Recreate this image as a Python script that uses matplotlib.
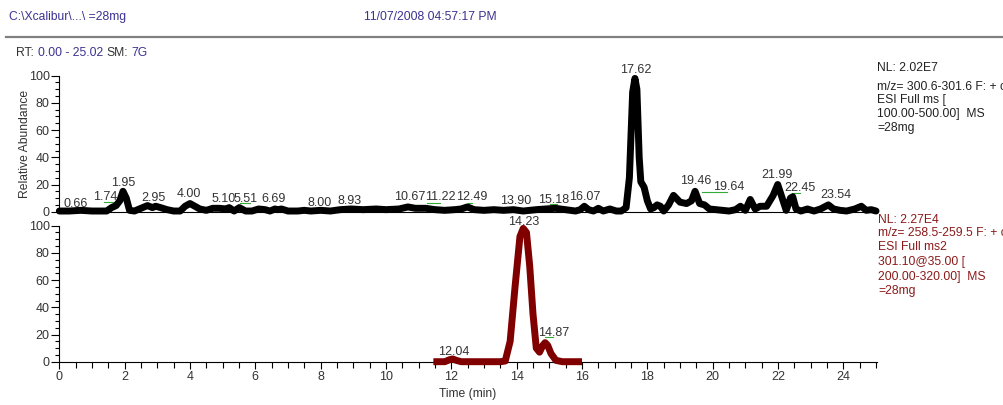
import numpy as np
import matplotlib
matplotlib.use("Agg")
import matplotlib.pyplot as plt
from matplotlib.ticker import MultipleLocator

# base peak trace, m/z 300.6-301.6 (time in min, relative abundance)
tic_time = [0.0, 0.3, 0.66, 1.0, 1.45, 1.6, 1.74, 1.85, 1.95, 2.05, 2.15, 2.3, 2.5, 2.7, 2.85,
            2.95, 3.1, 3.3, 3.5, 3.7, 3.85, 4.0, 4.15, 4.3, 4.5, 4.7, 4.9, 5.1, 5.2, 5.35,
            5.51, 5.7, 5.9, 6.1, 6.3, 6.45, 6.6, 6.69, 6.8, 7.0, 7.3, 7.5, 7.7, 8.0, 8.3,
            8.6, 8.93, 9.3, 9.7, 10.0, 10.4, 10.67, 10.9, 11.22, 11.5, 11.8, 12.1, 12.3,
            12.49, 12.7, 13.0, 13.3, 13.6, 13.9, 14.2, 14.6, 14.9, 15.18, 15.5, 15.8, 15.95,
            16.07, 16.2, 16.35, 16.5, 16.65, 16.85, 17.05, 17.2, 17.35, 17.45, 17.55, 17.62,
            17.68, 17.75, 17.8, 17.9, 18.0, 18.1, 18.2, 18.3, 18.4, 18.5, 18.65, 18.8, 19.0,
            19.2, 19.35, 19.46, 19.6, 19.75, 19.9, 20.1, 20.3, 20.5, 20.7, 20.85, 21.0,
            21.15, 21.3, 21.45, 21.65, 21.85, 21.99, 22.1, 22.25, 22.38, 22.45, 22.55, 22.7,
            22.9, 23.1, 23.3, 23.54, 23.7, 23.9, 24.1, 24.35, 24.55, 24.7, 24.85, 25.0]
tic_abund = [0.5, 0.5, 1, 0.5, 0.5, 3, 4.5, 8, 15, 10, 1, 0.5, 2.5, 4.5, 3,
             4, 3, 1.5, 0.5, 0.5, 4, 6, 4, 2, 1, 2.5, 2.5, 2, 3, 0.5,
             3, 0.5, 0.5, 2, 1.5, 0.5, 2, 1.5, 2, 0.5, 0.5, 1, 0.5, 1, 0.5,
             1.5, 2, 1.5, 2, 1.5, 2, 3.5, 2.5, 2.5, 1.5, 1, 1.5, 2,
             3.5, 1.5, 1, 1.5, 1, 1.5, 0.5, 1.5, 2, 2.5, 1.5, 0.5, 1.5,
             4, 1.5, 0.5, 2.5, 0.5, 2, 0.5, 0.5, 3, 25, 88, 98,
             90, 40, 22, 18, 8, 2, 3, 5, 4, 0.5, 5, 12, 7,
             6, 8, 15, 6, 5, 2, 1.5, 1, 0.5, 1.5, 4, 1,
             9, 2, 4, 4, 12, 20, 12, 1, 10, 11, 2, 0.5,
             2, 0.5, 2, 5, 2, 1, 0.5, 2, 4, 1, 1.5, 0.5]

# MS2 trace, m/z 258.5-259.5
ms2_time = [11.45, 11.8, 11.95, 12.04, 12.15, 12.3, 13.5, 13.65, 13.8, 13.95, 14.1, 14.2,
            14.3, 14.4, 14.5, 14.6, 14.7, 14.8, 14.87, 14.95, 15.05, 15.2, 15.4, 16.0]
ms2_abund = [0, 0, 1.5, 2, 1, 0, 0, 0.5, 15, 55, 92, 98,
             95, 70, 35, 10, 7, 12, 14, 12, 6, 1, 0, 0]

# peak labels: text, label x (min), label y (abundance)
top_labels = ["0.66", "1.74", "1.95", "2.95", "4.00", "5.10", "5.51", "6.69", "8.00", "8.93",
              "10.67", "11.22", "12.49", "13.90", "15.18", "16.07", "17.62", "19.46", "19.64",
              "21.99", "22.45", "23.54"]
top_lab_x = [0.50, 1.40, 1.96, 2.88, 3.98, 5.02, 5.69, 6.55, 7.98, 8.90,
             10.74, 11.66, 12.63, 13.96, 15.13, 16.07, 17.66, 19.47, 20.49,
             21.97, 22.67, 23.76]
top_lab_y = [5.5, 11, 21, 10, 13, 9.5, 9.5, 9, 6.5, 7.5,
             10.5, 10.5, 10.5, 7.5, 8.5, 11, 104, 22.5, 18, 27, 17.5, 12.5]

bot_labels = ["12.04", "14.23", "14.87"]
bot_lab_x = [12.07, 14.21, 15.13]
bot_lab_y = [7, 103, 21]

# green connector segments from peak to shifted label: x0, x1, y
top_links = [(0.48, 0.63, 2.5), (1.37, 1.71, 7.4), (5.53, 5.84, 6.2), (11.25, 11.66, 6.2),
             (12.52, 12.63, 6.2), (15.03, 15.23, 5.6), (19.67, 20.44, 14.3), (22.43, 22.66, 14)]
bot_links = [(14.88, 15.11, 18.4)]

W, H = 1004, 405
plt.rcParams['font.family'] = ['Liberation Sans', 'DejaVu Sans']
plt.rcParams['font.size'] = 8.7

fig = plt.figure(figsize=(W / 100, H / 100), dpi=100)
fig.patch.set_facecolor('white')

def px(x, y):
    return x / W, 1 - y / H

navy = '#3b3390'
txt = '#333333'
red = '#800000'

fig.text(*px(9.3, 17.3), r"C:\Xcalibur\...\ =28mg", color=navy, va='center', ha='left')
fig.text(*px(364, 17.3), "11/07/2008 04:57:17 PM", color=navy, va='center', ha='left')
fig.add_artist(plt.Line2D([6 / W, 1], [1 - 36.7 / H] * 2, color='#808080', lw=1.6))
fig.text(*px(16, 53.3), "RT:", color=txt, va='center', ha='left')
fig.text(*px(38.3, 53.3), "0.00 - 25.02", color=navy, va='center', ha='left')
fig.text(*px(106, 53.3), "SM:", color=txt, va='center', ha='left')
fig.text(*px(131.7, 53.3), "7G", color=navy, va='center', ha='left')

left = 59.3 / W
width = (876.7 - 59.3) / W
ax1 = fig.add_axes([left, (H - 211.7) / H, width, 136 / H])
ax2 = fig.add_axes([left, (H - 361.7) / H, width, 136 / H])

for ax in (ax1, ax2):
    ax.set_xlim(0, 25.02)
    ax.set_ylim(0, 100)
    ax.patch.set_alpha(0)
    ax.spines['top'].set_visible(False)
    ax.spines['right'].set_visible(False)
    ax.yaxis.set_major_locator(MultipleLocator(20))
    ax.yaxis.set_minor_locator(MultipleLocator(5))
    ax.tick_params(axis='y', which='major', length=6, width=0.8, pad=1, labelcolor=txt, labelsize=9)
    ax.tick_params(axis='y', which='minor', length=3, width=0.8)

ax1.tick_params(axis='x', which='both', bottom=False, labelbottom=False)
ax1.spines['bottom'].set_linewidth(0.8)
ax2.xaxis.set_major_locator(MultipleLocator(2))
ax2.xaxis.set_minor_locator(MultipleLocator(0.5))
ax2.tick_params(axis='x', which='major', length=5, width=0.8, pad=2, labelcolor=txt, labelsize=9)
ax2.tick_params(axis='x', which='minor', length=4, width=0.8)

ax1.plot(tic_time, tic_abund, color='black', lw=5, solid_joinstyle='round',
         solid_capstyle='round', clip_on=False, zorder=3)
ax2.plot(ms2_time, ms2_abund, color=red, lw=5, solid_joinstyle='round',
         solid_capstyle='butt', clip_on=False, zorder=3)

for x0, x1, y in top_links:
    ax1.plot([x0, x1], [y, y], color='#33aa33', lw=0.8, clip_on=False, zorder=2)
for x0, x1, y in bot_links:
    ax2.plot([x0, x1], [y, y], color='#33aa33', lw=0.8, clip_on=False, zorder=2)

for s, x, y in zip(top_labels, top_lab_x, top_lab_y):
    ax1.text(x, y, s, ha='center', va='center', color=txt, fontsize=9, clip_on=False, zorder=4)
for s, x, y in zip(bot_labels, bot_lab_x, bot_lab_y):
    ax2.text(x, y, s, ha='center', va='center', color=txt, fontsize=9, clip_on=False, zorder=4)

ax1.set_ylabel("Relative Abundance", color=txt, labelpad=-2)
ax2.set_xlabel("Time (min)", color=txt, labelpad=3)

top_info = [("NL: 2.02E7", 68.3), ("m/z= 300.6-301.6 F: + c", 86.7), ("ESI Full ms [", 100),
            ("100.00-500.00]  MS", 114), ("=28mg", 127.7)]
bot_info = [("NL: 2.27E4", 220), ("m/z= 258.5-259.5 F: + c", 233.3), ("ESI Full ms2", 246.7),
            ("301.10@35.00 [", 261.7), ("200.00-320.00]  MS", 276.7), ("=28mg", 290.7)]
for s, y in top_info:
    fig.text(*px(877.3, y), s, color='#222222', va='center', ha='left')
for s, y in bot_info:
    fig.text(*px(878.3, y), s, color='#8b1a1a', va='center', ha='left')

fig.savefig("out.png", dpi=100, facecolor='white')
